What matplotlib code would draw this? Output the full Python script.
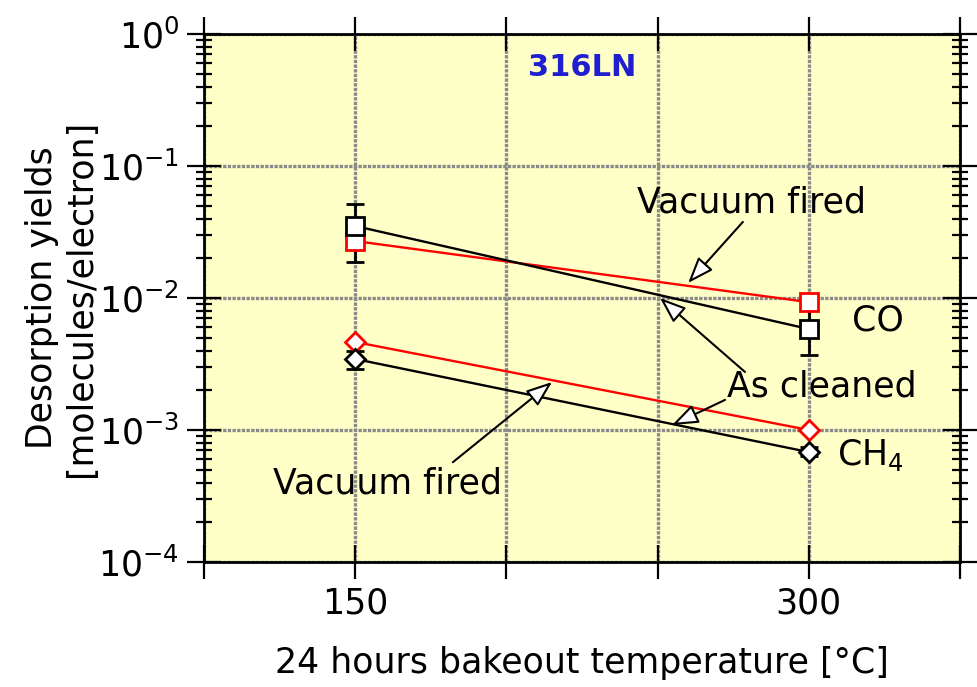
import matplotlib
matplotlib.use("Agg")
import matplotlib.pyplot as plt
from matplotlib.ticker import LogLocator, NullFormatter, FixedLocator

plt.rcParams['font.family'] = ['DejaVu Sans']

# bakeout temperature (°C)
temps = [150, 300]

# CO desorption yields
co_cleaned = [0.0351, 0.00582]
co_cleaned_lo = [0.0187, 0.00372]
co_cleaned_hi = [0.0515, 0.0088]
co_fired = [0.027, 0.0093]

# CH4 desorption yields
ch4_cleaned = [0.00345, 0.00068]
ch4_cleaned_lo = [0.0029, 0.00063]
ch4_cleaned_hi = [0.00397, 0.00074]
ch4_fired = [0.00464, 0.0010]

xticks_major = [100, 150, 200, 250, 300, 350]
xtick_labels = ['', '150', '', '', '300', '']

fig = plt.figure(figsize=(9.78, 6.87), dpi=100)
ax = fig.add_axes([0.2086, 0.182, 0.7730, 0.7685])
ax.set_facecolor('#ffffc8')

mk = dict(markersize=13, markerfacecolor='white', markeredgewidth=2, linewidth=1.7, zorder=3)


def errs(v, lo, hi):
    return [[a - b for a, b in zip(v, lo)], [b - a for a, b in zip(v, hi)]]


ax.errorbar(temps, co_cleaned, yerr=errs(co_cleaned, co_cleaned_lo, co_cleaned_hi),
            fmt='none', ecolor='black', elinewidth=2, capsize=6.5, capthick=2, zorder=2)
ax.errorbar(temps, ch4_cleaned, yerr=errs(ch4_cleaned, ch4_cleaned_lo, ch4_cleaned_hi),
            fmt='none', ecolor='black', elinewidth=2, capsize=6.5, capthick=2, zorder=2)

ax.plot(temps, co_fired, color='red', marker='s', markeredgecolor='red', **mk)
ax.plot(temps, co_cleaned, color='black', marker='s', markeredgecolor='black', **mk)
ax.plot(temps, ch4_fired, color='red', marker='D', markeredgecolor='red', **dict(mk, markersize=10.5))
ax.plot(temps, ch4_cleaned, color='black', marker='D', markeredgecolor='black', **dict(mk, markersize=10.5))

ax.set_yscale('log')
ax.set_xlim(100, 350)
ax.set_ylim(1e-4, 1)
ax.xaxis.set_major_locator(FixedLocator(xticks_major))
ax.set_xticklabels(xtick_labels)
ax.yaxis.set_major_locator(LogLocator(base=10, numticks=10))
ax.yaxis.set_minor_locator(LogLocator(base=10, subs=range(2, 10), numticks=20))
ax.yaxis.set_minor_formatter(NullFormatter())

ax.grid(True, which='major', color='#8a8a8a', linestyle=(0, (1, 0.4)), linewidth=2.4, zorder=0)
ax.set_axisbelow(True)
for s in ax.spines.values():
    s.set_linewidth(2)

ax.tick_params(axis='both', which='major', direction='inout', length=24, width=1.6,
               top=True, right=True, labelsize=25, pad=6)
ax.tick_params(axis='y', which='minor', direction='inout', length=12, width=1.6,
               left=True, right=True)

ax.set_xlabel('24 hours bakeout temperature [°C]', fontsize=25, labelpad=18)
ax.set_ylabel('Desorption yields\n[molecules/electron]', fontsize=25, labelpad=0)

arrow = dict(arrowstyle='-|>,head_length=1.6,head_width=0.6', facecolor='white',
             edgecolor='black', linewidth=1.5, shrinkA=0, shrinkB=0)

ax.text(281.2, 0.0525, 'Vacuum fired', fontsize=25, ha='center', va='center')
ax.annotate('', xy=(260.1, 0.0130), xytext=(278.2, 0.0377), arrowprops=arrow)

ax.text(304.4, 0.00212, 'As cleaned', fontsize=25, ha='center', va='center')
ax.annotate('', xy=(250.8, 0.0100), xytext=(278.9, 0.00275), arrowprops=arrow)
ax.annotate('', xy=(254.8, 0.00109), xytext=(272.3, 0.00169), arrowprops=arrow)

ax.text(160.8, 0.00039, 'Vacuum fired', fontsize=25, ha='center', va='center')
ax.annotate('', xy=(215.1, 0.00231), xytext=(182.3, 0.00057), arrowprops=arrow)

ax.text(322.9, 0.0068, 'CO', fontsize=25, ha='center', va='center')
ax.text(320.2, 0.00065, 'CH$_4$', fontsize=25, ha='center', va='center')
ax.text(225, 0.56, '316LN', fontsize=22, fontweight='bold', color='#1f1fd0',
        ha='center', va='center')

fig.savefig('out.png', dpi=100)
